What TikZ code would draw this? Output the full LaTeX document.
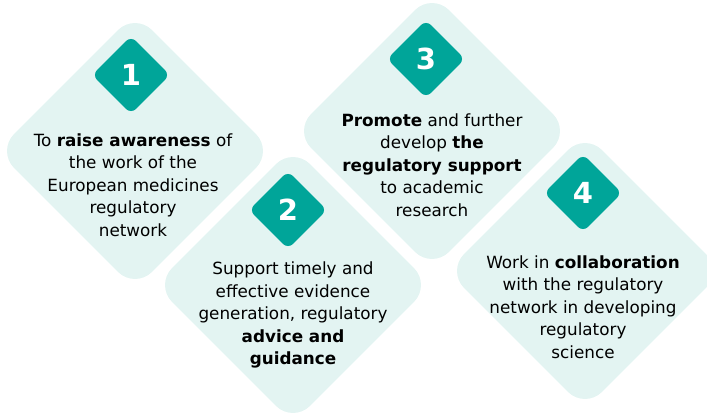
\documentclass[tikz,border=0pt]{standalone}
\usepackage{fontspec}
\setmainfont{DejaVu Sans}
\usetikzlibrary{shapes.geometric}
\definecolor{panelfill}{RGB}{227,244,242}
\definecolor{badgefill}{RGB}{0,165,153}
\newcommand{\panelsize}{276pt}
\newcommand{\badgesize}{78pt}

\begin{document}
\begin{tikzpicture}[x=1pt, y=-1pt,
    panel/.style={diamond, aspect=1, fill=panelfill, minimum size=\panelsize, inner sep=0pt, rounded corners=24pt},
    badge/.style={diamond, aspect=1, fill=badgefill, minimum size=\badgesize, inner sep=0pt, rounded corners=7pt, text=white, font=\fontsize{29}{29}\selectfont\bfseries},
    blurb/.style={align=center, font=\fontsize{16.8}{22.5}\selectfont}]
    \useasboundingbox (0,0) rectangle (707,414);

    % panels
    \node[panel] (p1) at (135,151) {};
    \node[panel] (p2) at (293,285) {};
    \node[panel] (p3) at (432,131) {};
    \node[panel] (p4) at (585,271) {};

    % numbers
    \node[badge] (b1) at (131,75) {1};
    \node[badge] (b2) at (288,210) {2};
    \node[badge] (b3) at (426,59) {3};
    \node[badge] (b4) at (583,193) {4};

    % texts
    \node[blurb] (t1) at (133,185) {To \textbf{raise awareness} of\\the work of the\\European medicines\\regulatory\\network};
    \node[blurb] (t2) at (293,315) {Support timely and\\effective evidence\\generation, regulatory\\\textbf{advice and}\\\textbf{guidance}};
    \node[blurb] (t3) at (432,165) {\textbf{Promote} and further\\develop \textbf{the}\\\textbf{regulatory support}\\to academic\\research};
    \node[blurb] (t4) at (583,307) {Work in \textbf{collaboration}\\with the regulatory\\network in developing\\regulatory\\science};
\end{tikzpicture}
\end{document}
